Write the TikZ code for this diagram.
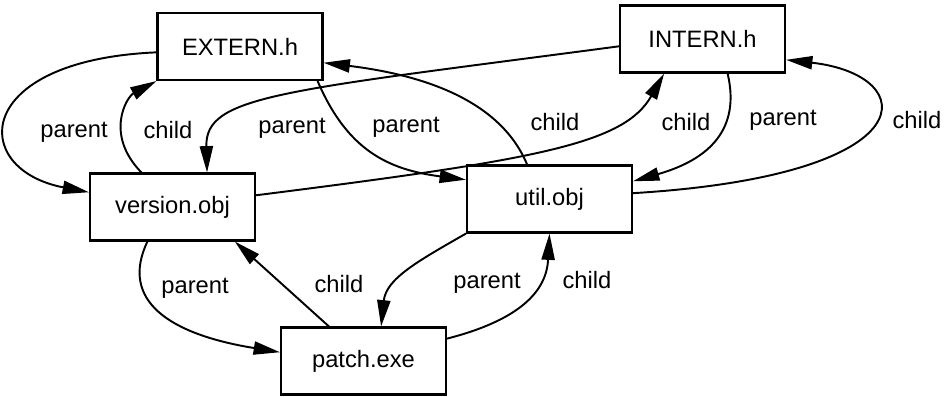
\documentclass[tikz,border=0pt]{standalone}
\usepackage{fontspec}
\setmainfont{Liberation Sans}
\usetikzlibrary{arrows.meta}
\tikzset{
  filebox/.style={draw, line width=1.2pt, minimum width=3.3cm, minimum height=1.34cm, inner sep=0pt},
  link/.style={line width=1.1pt, -{Triangle[length=15pt,width=7.5pt]}},
  lbl/.style={inner sep=0pt}
}
\begin{document}
\begin{tikzpicture}[x=0.02cm, y=-0.02cm, font=\fontsize{13.5}{16}\selectfont]
  \useasboundingbox (0,0) rectangle (945,396);
  % files
  \node[filebox] (ext) at (240,46.5) {EXTERN.h};
  \node[filebox] (int) at (702.5,39) {INTERN.h};
  \node[filebox] (ver) at (172.5,207) {version.obj};
  \node[filebox] (util) at (549.5,199) {util.obj};
  \node[filebox] (patch) at (363.5,361) {patch.exe};
  % dependencies
  \draw[link] (ext.184) .. controls +(-185,8) and +(-120,-23) .. (ver.170);
  \draw[link] (ver.132) .. controls +(-37,-38) and +(-30,16) .. (ext.south west);
  \draw[link] (int.185) .. controls +(-340,45) and +(-2,-77) .. (ver.45);
  \draw[link] (ext.-24) .. controls +(30,70) and +(-77,-10) .. (util.167);
  \draw[link] (util.123) .. controls +(-27,-65) and +(98,12) .. (ext.-11);
  \draw[link] (ver.8) .. controls +(285,-36) and +(-40,70) .. (int.222);
  \draw[link] (int.-54) .. controls +(13,55) and +(77,-22) .. (util.12);
  \draw[link] (util.4) .. controls +(298,-18) and +(135,15) .. (int.-14);
  \draw[link] (ver.234) .. controls +(-28,59) and +(-111,-18) .. (patch.174);
  \draw[link] (patch.135) -- (ver.-29);
  \draw[link] (util.south west) .. controls +(-47,27) and +(5,-48) .. (patch.63);
  \draw[link] (patch.15) .. controls +(74,-19) and +(-3,57) .. (util.south);
  % labels
  \node[lbl] (p1) at (74,132) {parent};
  \node[lbl] (c1) at (168,130) {child};
  \node[lbl] (p2) at (292,128) {parent};
  \node[lbl] (p3) at (406,127) {parent};
  \node[lbl] (c2) at (555,122) {child};
  \node[lbl] (c3) at (686,122) {child};
  \node[lbl] (p4) at (783,120) {parent};
  \node[lbl] (c4) at (917,120) {child};
  \node[lbl] (p5) at (195,288) {parent};
  \node[lbl] (c5) at (339,284) {child};
  \node[lbl] (p6) at (487,283) {parent};
  \node[lbl] (c6) at (587,280) {child};
\end{tikzpicture}
\end{document}
